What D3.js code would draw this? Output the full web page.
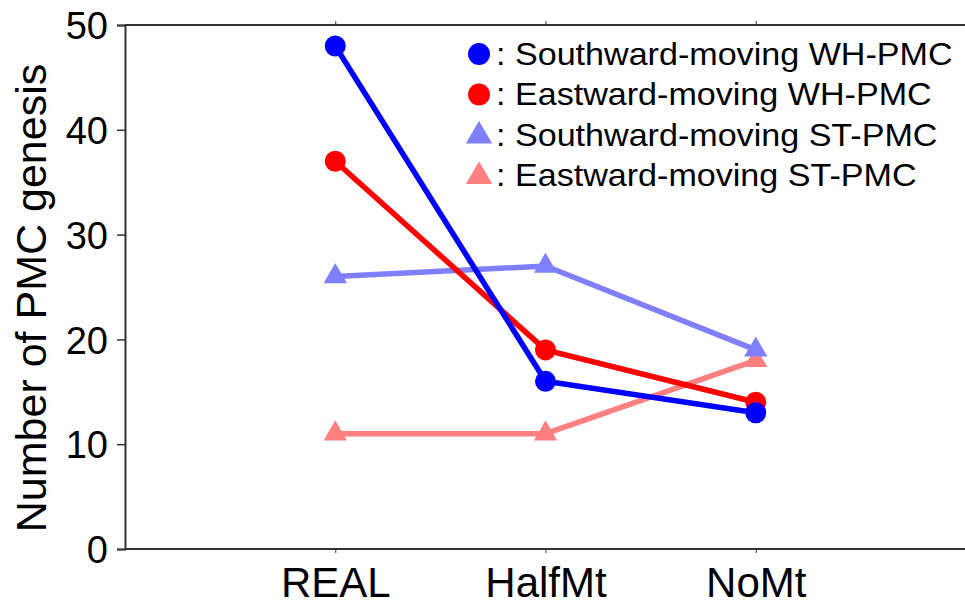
<!DOCTYPE html>
<html>
<head>
<meta charset="utf-8">
<script src="https://cdn.jsdelivr.net/npm/d3@7"></script>
<style>
  html, body { margin: 0; padding: 0; background: #fff; }
  svg text { font-family: "Liberation Sans", Arial, sans-serif; fill: #000; }
</style>
</head>
<body>
<svg id="chart" width="965" height="608"></svg>
<script>
const categories = ["REAL", "HalfMt", "NoMt"];
const southwardWH = [48, 16, 13];
const eastwardWH = [37, 19, 14];
const southwardST = [26, 27, 19];
const eastwardST = [11, 11, 18];
const yTicks = [0, 10, 20, 30, 40, 50];
const seriesNames = [
  ": Southward-moving WH-PMC",
  ": Eastward-moving WH-PMC",
  ": Southward-moving ST-PMC",
  ": Eastward-moving ST-PMC"
];

const series = [
  { name: seriesNames[0], values: southwardWH, color: "#0000ff", shape: "circle" },
  { name: seriesNames[1], values: eastwardWH, color: "#ff0000", shape: "circle" },
  { name: seriesNames[2], values: southwardST, color: "#8080ff", shape: "triangle" },
  { name: seriesNames[3], values: eastwardST, color: "#ff8080", shape: "triangle" }
];

const svg = d3.select("#chart");
const mLeft = 125, mRight = 966, mTop = 25, mBottom = 549;

const x = d3.scalePoint().domain(categories).range([mLeft, mRight]).padding(1);
const y = d3.scaleLinear().domain([0, 50]).range([mBottom, mTop]);

const axisColor = "#333";

// Left axis
const gy = svg.append("g").attr("transform", `translate(${mLeft},0)`)
  .call(d3.axisLeft(y).tickValues(yTicks).tickSize(8).tickPadding(9));
gy.select(".domain").attr("stroke", axisColor).attr("stroke-width", 2);
gy.selectAll(".tick line").attr("stroke", axisColor).attr("stroke-width", 1.5);
gy.selectAll(".tick text").style("font-size", "38px").attr("dy", "0.36em");

// Bottom axis
const gx = svg.append("g").attr("transform", `translate(0,${mBottom})`)
  .call(d3.axisBottom(x).tickSize(4).tickPadding(14));
gx.select(".domain").attr("stroke", axisColor).attr("stroke-width", 2).attr("d", `M${mLeft},0H${965}`);
gx.selectAll(".tick line").attr("stroke", axisColor).attr("stroke-width", 1);
gx.selectAll(".tick text").style("font-size", "42px").attr("dy", "0.71em");

// Top axis
const gt = svg.append("g").attr("transform", `translate(0,${mTop})`)
  .call(d3.axisTop(x).tickSize(4).tickFormat(""));
gt.select(".domain").attr("stroke", axisColor).attr("stroke-width", 2).attr("d", `M${mLeft},0H${965}`);
gt.selectAll(".tick line").attr("stroke", axisColor).attr("stroke-width", 1);

// Y title
svg.append("text")
  .attr("transform", `translate(46,${(mTop + mBottom) / 2 + 11}) rotate(-90)`)
  .attr("text-anchor", "middle")
  .style("font-size", "43px")
  .text("Number of PMC genesis");

const triSym = d3.symbol().type(d3.symbolTriangle).size(235);
const triSymLeg = d3.symbol().type(d3.symbolTriangle).size(300);

// Draw series in reverse order (blue WH on top)
const line = d3.line().x((d, i) => x(categories[i])).y(d => y(d));
series.slice().reverse().forEach(s => {
  const g = svg.append("g");
  g.append("path").attr("d", line(s.values)).attr("fill", "none")
    .attr("stroke", s.color).attr("stroke-width", 5.5);
  s.values.forEach((v, i) => {
    if (s.shape === "circle") {
      g.append("circle").attr("cx", x(categories[i])).attr("cy", y(v)).attr("r", 10.5).attr("fill", s.color);
    } else {
      g.append("path").attr("d", triSym())
        .attr("transform", `translate(${x(categories[i])},${y(v)})`).attr("fill", s.color);
    }
  });
});

// Legend
const leg = svg.append("g");
series.forEach((s, i) => {
  const cy = 54 + i * 40.5;
  if (s.shape === "circle") {
    leg.append("circle").attr("cx", 479).attr("cy", cy).attr("r", 11).attr("fill", s.color);
  } else {
    leg.append("path").attr("d", triSymLeg()).attr("transform", `translate(479,${cy + 1})`).attr("fill", s.color);
  }
  leg.append("text").attr("x", 496).attr("y", cy + 11)
    .style("font-size", "31px")
    .attr("transform", `translate(${496 * -0.1},0) scale(1.1,1)`)
    .text(s.name);
});
</script>
</body>
</html>
